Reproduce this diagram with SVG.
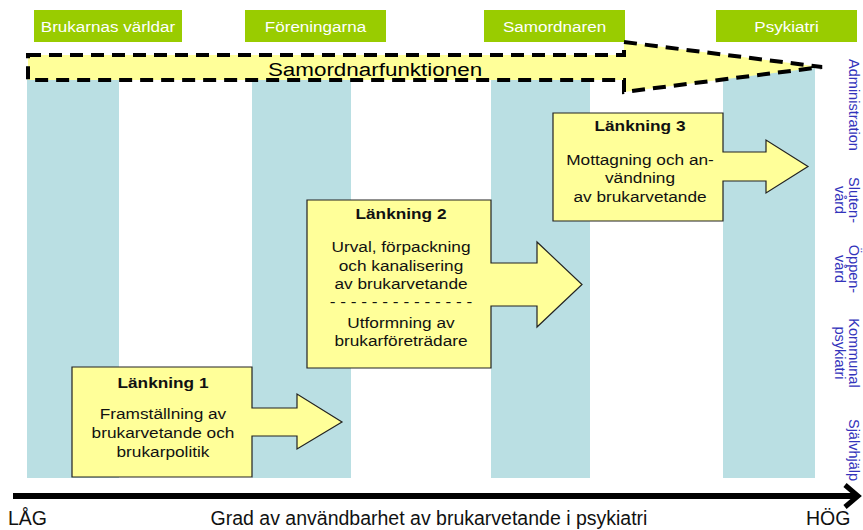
<svg xmlns="http://www.w3.org/2000/svg" width="863" height="530" viewBox="0 0 863 530">
<style>
  text { font-family: "Liberation Sans", Arial, sans-serif; }
  .hdr rect { fill: #99CC00; }
  .hdr text { fill: #FFFFFF; font-size: 15.5px; text-anchor: middle; }
  .col { fill: #BADFE3; }
  .link { fill: #FFFF99; stroke: #222222; stroke-width: 1.2; }
  .bt { font-size: 15px; fill: #111111; text-anchor: middle; }
  .bt .b { font-weight: bold; }
  .side { font-size: 14.5px; fill: #3333BB; text-anchor: middle; }
  .axis { font-size: 19.5px; fill: #111111; }
</style>
<rect width="863" height="530" fill="#FFFFFF"/>

<!-- columns -->
<g id="columns">
  <rect class="col" x="27" y="66" width="92" height="412"/>
  <rect class="col" x="252" y="66" width="99" height="412"/>
  <rect class="col" x="491" y="66" width="99" height="412"/>
  <rect class="col" x="723" y="66" width="92" height="412"/>
</g>

<!-- headers -->
<g id="hdr-brukarnas" class="hdr">
  <rect x="34" y="10" width="148" height="32"/>
  <g transform="translate(108,0) scale(1.1,1)"><text x="0" y="32">Brukarnas världar</text></g>
</g>
<g id="hdr-foreningarna" class="hdr">
  <rect x="245" y="10" width="141" height="32"/>
  <g transform="translate(315.5,0) scale(1.1,1)"><text x="0" y="32">Föreningarna</text></g>
</g>
<g id="hdr-samordnaren" class="hdr">
  <rect x="484" y="10" width="141" height="32"/>
  <g transform="translate(554.5,0) scale(1.1,1)"><text x="0" y="32">Samordnaren</text></g>
</g>
<g id="hdr-psykiatri" class="hdr">
  <rect x="716" y="10" width="141" height="32"/>
  <g transform="translate(786.5,0) scale(1.1,1)"><text x="0" y="32">Psykiatri</text></g>
</g>

<!-- Samordnarfunktionen dashed arrow -->
<g id="samordnarfunktionen">
  <polygon points="28,55 624,55 624,42 822,67 624,92 624,80 28,80" fill="#FFFF99" stroke="#000000" stroke-width="4" stroke-dasharray="13 8"/>
  <g transform="translate(375,0) scale(1.18,1)"><text x="0" y="76" font-size="19" text-anchor="middle" fill="#000000">Samordnarfunktionen</text></g>
</g>

<!-- Länkning 1 -->
<g id="lankning1">
  <polygon class="link" points="72,367 252,367 252,408 297,408 297,394 342,422 297,449 297,436 252,436 252,477 72,477"/>
  <g transform="translate(163,0) scale(1.15,1)" class="bt">
    <text class="b" x="0" y="388">Länkning 1</text>
    <text x="0" y="419">Framställning av</text>
    <text x="0" y="438">brukarvetande och</text>
    <text x="0" y="457">brukarpolitik</text>
  </g>
</g>

<!-- Länkning 2 -->
<g id="lankning2">
  <polygon class="link" points="307,200 491,200 491,263 537,263 537,242 582,284.5 537,327 537,306 491,306 491,368 307,368"/>
  <g transform="translate(401,0) scale(1.15,1)" class="bt">
    <text class="b" x="0" y="219">Länkning 2</text>
    <text x="0" y="252">Urval, förpackning</text>
    <text x="0" y="271">och kanalisering</text>
    <text x="0" y="289">av brukarvetande</text>
    <text x="0" y="307">- - - - - - - - - - - - - -</text>
    <text x="0" y="328">Utformning av</text>
    <text x="0" y="346">brukarföreträdare</text>
  </g>
</g>

<!-- Länkning 3 -->
<g id="lankning3">
  <polygon class="link" points="553,113 723,113 723,152 766,152 766,140 808,166.5 766,193 766,181 723,181 723,221 553,221"/>
  <g transform="translate(640,0) scale(1.15,1)" class="bt">
    <text class="b" x="0" y="131">Länkning 3</text>
    <text x="0" y="165">Mottagning och an-</text>
    <text x="0" y="183">vändning</text>
    <text x="0" y="202">av brukarvetande</text>
  </g>
</g>

<!-- right side labels -->
<g id="side-labels" class="side">
  <text transform="translate(849,105) rotate(90)" x="0" y="0">Administration</text>
  <text transform="translate(849,200) rotate(90)" x="0" y="0"><tspan x="0" y="0">Sluten-</tspan><tspan x="0" y="14">vård</tspan></text>
  <text transform="translate(849,269) rotate(90)" x="0" y="0"><tspan x="0" y="0">Öppen-</tspan><tspan x="0" y="14">vård</tspan></text>
  <text transform="translate(849,353) rotate(90)" x="0" y="0"><tspan x="0" y="0">Kommunal</tspan><tspan x="0" y="14">psykiatri</tspan></text>
  <text transform="translate(849,450) rotate(90)" x="0" y="0">Självhjälp</text>
</g>

<!-- axis -->
<g id="connectors">
  <line x1="13" y1="496" x2="856" y2="496" stroke="#000000" stroke-width="6"/>
  <polyline points="845,485 858,496 845,507" fill="none" stroke="#000000" stroke-width="5" stroke-linejoin="miter"/>
</g>
<g id="axis-labels" class="axis">
  <text x="8" y="525">LÅG</text>
  <text x="429" y="525" text-anchor="middle">Grad av användbarhet av brukarvetande i psykiatri</text>
  <text x="806" y="525">HÖG</text>
</g>
</svg>
